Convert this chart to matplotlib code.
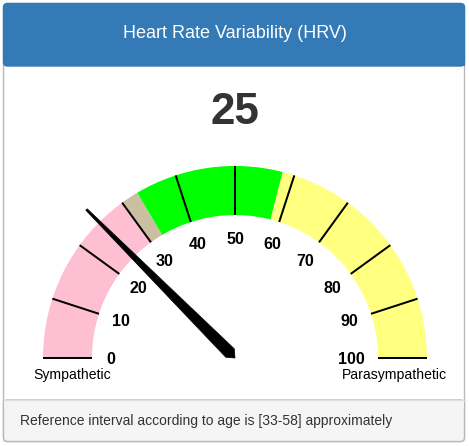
import numpy as np
import matplotlib
matplotlib.use("Agg")
import matplotlib.pyplot as plt
from matplotlib.patches import Wedge, Polygon, FancyBboxPatch, Rectangle

# ---- data ----
title = "Heart Rate Variability (HRV)"
value = 25
band_starts = [0, 30, 33, 58]
band_ends = [30, 33, 58, 100]
band_colors = ["#ffbfd3", "#ccbfa1", "#00ff00", "#ffff80"]
tick_values = [0, 10, 20, 30, 40, 50, 60, 70, 80, 90, 100]
tick_labels = ["0", "10", "20", "30", "40", "50", "60", "70", "80", "90", "100"]
left_label = "Sympathetic"
right_label = "Parasympathetic"
footer = "Reference interval according to age is [33-58] approximately"
vmin, vmax = 0, 100

W, H = 469, 446
DPI = 100
fig = plt.figure(figsize=(W / DPI, H / DPI), dpi=DPI)
ax = fig.add_axes([0, 0, 1, 1])
ax.set_xlim(0, W)
ax.set_ylim(0, H)
ax.axis("off")

def py(y):
    return H - y

def px2pt(p):
    return p * 72 / DPI

font = "Liberation Sans"

# ---- panel ----
panel = FancyBboxPatch((3.5, py(441.5)), 461, 438, boxstyle="round,pad=0,rounding_size=4",
                       facecolor="white", edgecolor="#b8b8b8", linewidth=1, zorder=0)
ax.add_patch(panel)
header = FancyBboxPatch((3.5, py(66)), 461, 62.5, boxstyle="round,pad=0,rounding_size=4",
                        facecolor="#337ab7", edgecolor="#337ab7", linewidth=1, zorder=1)
ax.add_patch(header)
ax.add_patch(Rectangle((3.5, py(66)), 461, 8, facecolor="#337ab7", edgecolor="none", zorder=1))
footer_box = FancyBboxPatch((3.5, py(441.5)), 461, 41.5, boxstyle="round,pad=0,rounding_size=4",
                            facecolor="#f5f5f5", edgecolor="#b8b8b8", linewidth=1, zorder=1)
ax.add_patch(footer_box)
ax.add_patch(Rectangle((4, py(400) - 8), 460, 8, facecolor="#f5f5f5", edgecolor="none", zorder=1))
ax.plot([3.5, 464.5], [py(400), py(400)], color="#dddddd", lw=1, zorder=2)

ax.text(234.5, py(34), title, color="white", fontsize=px2pt(18), family=font,
        ha="center", va="center", zorder=3)
ax.text(20, py(421.5), footer, color="#333333", fontsize=px2pt(13.85), family=font,
        ha="left", va="center", zorder=3)

# ---- gauge ----
cx, cy = 235, py(358)
r_out, r_in = 192, 143

def ang(v):
    return np.pi - (v - vmin) / (vmax - vmin) * np.pi

for s, e, c in zip(band_starts, band_ends, band_colors):
    ax.add_patch(Wedge((cx, cy), r_out, np.degrees(ang(e)), np.degrees(ang(s)),
                       width=r_out - r_in, facecolor=c, edgecolor="none", zorder=2))

for v, lab in zip(tick_values, tick_labels):
    a = ang(v)
    ax.plot([cx + r_in * np.cos(a), cx + r_out * np.cos(a)],
            [cy + r_in * np.sin(a), cy + r_out * np.sin(a)],
            color="black", lw=px2pt(2), solid_capstyle="butt", zorder=3)
    rl = 120
    dx = -4 if v in (vmin, vmax) else 0
    ax.text(cx + rl * np.cos(a) + dx, cy + rl * np.sin(a) - 1, lab, fontsize=px2pt(16),
            fontweight="bold", family=font, ha="center", va="center", color="black", zorder=3)

ax.text(72.5, py(375), left_label, fontsize=px2pt(14), family=font, ha="center", va="center", zorder=3)
ax.text(394.3, py(375), right_label, fontsize=px2pt(14), family=font, ha="center", va="center", zorder=3)

# needle
a = ang(value)
u = np.array([np.cos(a), np.sin(a)])
n = np.array([-np.sin(a), np.cos(a)])
c0 = np.array([cx, cy])
base = c0 + u * 7
pts = [c0 + u * 210 + n * 1, base + n * 6, c0, base - n * 6, c0 + u * 210 - n * 1]
ax.add_patch(Polygon(pts, closed=True, facecolor="black", edgecolor="black", lw=0.5, zorder=4))

ax.text(235, py(112), str(value), fontsize=px2pt(44), fontweight="bold", family=font,
        ha="center", va="center", color="#333333", zorder=3)

fig.savefig("out.png", dpi=DPI)
